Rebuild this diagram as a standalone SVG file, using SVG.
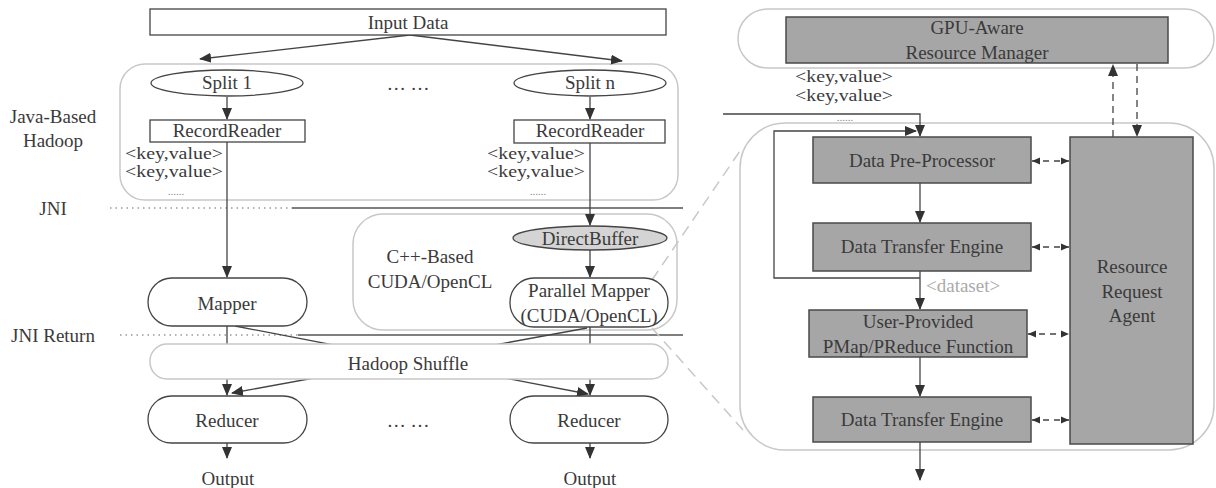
<svg xmlns="http://www.w3.org/2000/svg" width="1216" height="488" viewBox="0 0 1216 488">
<defs>
<style>
text{font-family:"Liberation Serif","Times New Roman",serif;font-size:19px;fill:#3a3a3a;text-anchor:middle}
.lbl{text-anchor:start}
.kv{text-anchor:start;font-size:16.5px}
.box{fill:#fff;stroke:#444;stroke-width:1.3}
.dark{fill:#a6a6a6;stroke:#4a4a4a;stroke-width:1.5}
.cont{fill:none;stroke:#c8c8c8;stroke-width:1.5}
.line{fill:none;stroke:#444;stroke-width:1.3}
.dash{fill:none;stroke:#444;stroke-width:1.3;stroke-dasharray:7 5}
.sdash{fill:none;stroke:#444;stroke-width:1.3;stroke-dasharray:6 5}
.zoom{fill:none;stroke:#c8c8c8;stroke-width:1.5;stroke-dasharray:11 7}
.dot{fill:none;stroke:#999;stroke-width:1.3;stroke-dasharray:1.5 4}
.sep{fill:none;stroke:#555;stroke-width:1.6}
</style>
<marker id="ah" markerUnits="userSpaceOnUse" markerWidth="12" markerHeight="10" refX="11" refY="5" orient="auto"><path d="M0,0 L12,5 L0,10 Z" fill="#333"/></marker>
<marker id="sh" markerUnits="userSpaceOnUse" markerWidth="8" markerHeight="8" refX="8" refY="4" orient="auto"><path d="M0,0.5 L8,4 L0,7.5 Z" fill="#333"/></marker>
<marker id="shs" markerUnits="userSpaceOnUse" markerWidth="8" markerHeight="8" refX="0" refY="4" orient="auto"><path d="M8,0.5 L0,4 L8,7.5 Z" fill="#333"/></marker>
</defs>

<g id="containers">
<rect id="java-container" class="cont" x="120" y="64" width="558" height="136" rx="25"/>
<rect id="cpp-container" class="cont" x="353" y="214" width="324" height="116" rx="30"/>
<rect id="gpu-container" class="cont" x="738" y="9" width="476" height="59" rx="29.5"/>
<rect id="right-container" class="cont" x="740" y="123" width="474" height="327" rx="45"/>
</g>

<g id="labels">
<text x="53" y="123">Java-Based</text>
<text x="53" y="147">Hadoop</text>
<text x="53" y="215">JNI</text>
<text x="53" y="342">JNI Return</text>
<text x="430" y="263">C++-Based</text>
<text x="430" y="288">CUDA/OpenCL</text>
<text x="408" y="90">… …</text>
<text x="408" y="427">… …</text>
<text class="kv" x="125" y="158.5" textLength="98" lengthAdjust="spacingAndGlyphs">&lt;key,value&gt;</text>
<text class="kv" x="125" y="177" textLength="98" lengthAdjust="spacingAndGlyphs">&lt;key,value&gt;</text>
<text x="176" y="195" style="font-size:11px;fill:#888">......</text>
<text class="kv" x="487" y="158.5" textLength="98" lengthAdjust="spacingAndGlyphs">&lt;key,value&gt;</text>
<text class="kv" x="487" y="177" textLength="98" lengthAdjust="spacingAndGlyphs">&lt;key,value&gt;</text>
<text x="538" y="195" style="font-size:11px;fill:#888">......</text>
<text class="kv" x="795" y="82" textLength="98" lengthAdjust="spacingAndGlyphs">&lt;key,value&gt;</text>
<text class="kv" x="795" y="100.5" textLength="98" lengthAdjust="spacingAndGlyphs">&lt;key,value&gt;</text>
<text x="845" y="121" style="font-size:11px;fill:#888">......</text>
<text class="lbl" x="926" y="292" style="fill:#aaa">&lt;dataset&gt;</text>
<text x="228" y="485">Output</text>
<text x="590" y="485">Output</text>
</g>

<g id="connectors">
<line class="dot" x1="110" y1="208" x2="292" y2="208"/>
<line class="sep" x1="292" y1="208" x2="683" y2="208"/>
<line class="dot" x1="120" y1="335" x2="298" y2="335"/>
<line class="sep" x1="298" y1="335" x2="683" y2="335"/>
<line class="line" x1="410" y1="35" x2="200" y2="59" marker-end="url(#ah)"/>
<line class="line" x1="410" y1="35" x2="622" y2="61" marker-end="url(#ah)"/>
<line class="line" x1="227" y1="97" x2="227" y2="119" marker-end="url(#ah)"/>
<line class="line" x1="590" y1="97" x2="590" y2="119" marker-end="url(#ah)"/>
<line class="line" x1="227" y1="142" x2="227" y2="277" marker-end="url(#ah)"/>
<line class="line" x1="590" y1="143" x2="590" y2="225" marker-end="url(#ah)"/>
<line class="line" x1="590" y1="250" x2="590" y2="277" marker-end="url(#ah)"/>
<line class="line" x1="227" y1="326" x2="227" y2="395" marker-end="url(#ah)"/>
<line class="line" x1="235" y1="326" x2="588" y2="394" marker-end="url(#ah)"/>
<line class="line" x1="587" y1="328" x2="232" y2="393" marker-end="url(#ah)"/>
<line class="line" x1="590" y1="327" x2="590" y2="395" marker-end="url(#ah)"/>
<line class="line" x1="227" y1="443" x2="227" y2="458" marker-end="url(#ah)"/>
<line class="line" x1="590" y1="443" x2="590" y2="458" marker-end="url(#ah)"/>
<line class="zoom" x1="652" y1="280" x2="742" y2="148"/>
<line class="zoom" x1="652" y1="328" x2="743" y2="430"/>
<polyline class="line" points="723,114 920,114 920,136" marker-end="url(#ah)"/>
<polyline class="line" points="920,278 774,278 774,131 916,131" marker-end="url(#ah)"/>
<line class="line" x1="920" y1="183" x2="920" y2="222" marker-end="url(#ah)"/>
<line class="line" x1="920" y1="271" x2="920" y2="309" marker-end="url(#ah)"/>
<line class="line" x1="920" y1="357" x2="920" y2="396" marker-end="url(#ah)"/>
<line class="line" x1="920" y1="442" x2="920" y2="480" marker-end="url(#ah)"/>
<line class="sdash" x1="1032" y1="161" x2="1069" y2="161" marker-start="url(#shs)" marker-end="url(#sh)"/>
<line class="sdash" x1="1032" y1="247" x2="1069" y2="247" marker-start="url(#shs)" marker-end="url(#sh)"/>
<line class="sdash" x1="1028" y1="334" x2="1069" y2="334" marker-start="url(#shs)" marker-end="url(#sh)"/>
<line class="sdash" x1="1032" y1="420" x2="1069" y2="420" marker-start="url(#shs)" marker-end="url(#sh)"/>
<line class="dash" x1="1113" y1="137" x2="1113" y2="65" marker-end="url(#ah)"/>
<line class="dash" x1="1137" y1="64" x2="1137" y2="136" marker-end="url(#ah)"/>
</g>

<g id="input-data"><rect class="box" x="150" y="9" width="516" height="26"/><text x="408" y="29">Input Data</text></g>
<g id="split-1"><ellipse class="box" cx="227" cy="83" rx="76" ry="13"/><text x="227" y="89">Split 1</text></g>
<g id="split-n"><ellipse class="box" cx="590" cy="83" rx="76" ry="13"/><text x="590" y="89">Split n</text></g>
<g id="recordreader-1"><rect class="box" x="150" y="120" width="155" height="22"/><text x="227" y="137">RecordReader</text></g>
<g id="recordreader-n"><rect class="box" x="514" y="120" width="151" height="23"/><text x="590" y="137">RecordReader</text></g>
<g id="directbuffer"><ellipse cx="590" cy="238" rx="77" ry="12" style="fill:#d4d4d4;stroke:#444;stroke-width:1.3"/><text x="590" y="245">DirectBuffer</text></g>
<g id="parallel-mapper"><rect class="box" x="510" y="278" width="158" height="49" rx="24"/><text x="589" y="297">Parallel Mapper</text><text x="589" y="322">(CUDA/OpenCL)</text></g>
<g id="mapper"><rect class="box" x="148" y="278" width="159" height="48" rx="24"/><text x="227" y="310">Mapper</text></g>
<g id="hadoop-shuffle"><rect x="150" y="344" width="518" height="35" rx="17" style="fill:#fff;stroke:#c8c8c8;stroke-width:1.5"/><text x="408" y="370">Hadoop Shuffle</text></g>
<g id="reducer-1"><rect class="box" x="148" y="396" width="159" height="47" rx="23.5"/><text x="227" y="427">Reducer</text></g>
<g id="reducer-n"><rect class="box" x="510" y="396" width="158" height="47" rx="23.5"/><text x="589" y="427">Reducer</text></g>

<g id="gpu-resource-manager"><rect class="dark" x="786" y="17" width="382" height="46"/><text x="977" y="34">GPU-Aware</text><text x="977" y="59">Resource Manager</text></g>
<g id="data-pre-processor"><rect class="dark" x="813" y="137" width="218" height="46"/><text x="922" y="167">Data Pre-Processor</text></g>
<g id="data-transfer-engine-1"><rect class="dark" x="813" y="223" width="218" height="48"/><text x="922" y="253">Data Transfer Engine</text></g>
<g id="user-provided"><rect class="dark" x="809" y="310" width="218" height="47"/><text x="918" y="328">User-Provided</text><text x="918" y="353">PMap/PReduce Function</text></g>
<g id="data-transfer-engine-2"><rect class="dark" x="813" y="397" width="218" height="45"/><text x="922" y="426">Data Transfer Engine</text></g>
<g id="resource-request-agent"><rect class="dark" x="1070" y="137" width="123" height="307"/><text x="1132" y="273">Resource</text><text x="1132" y="298">Request</text><text x="1132" y="322">Agent</text></g>
</svg>
